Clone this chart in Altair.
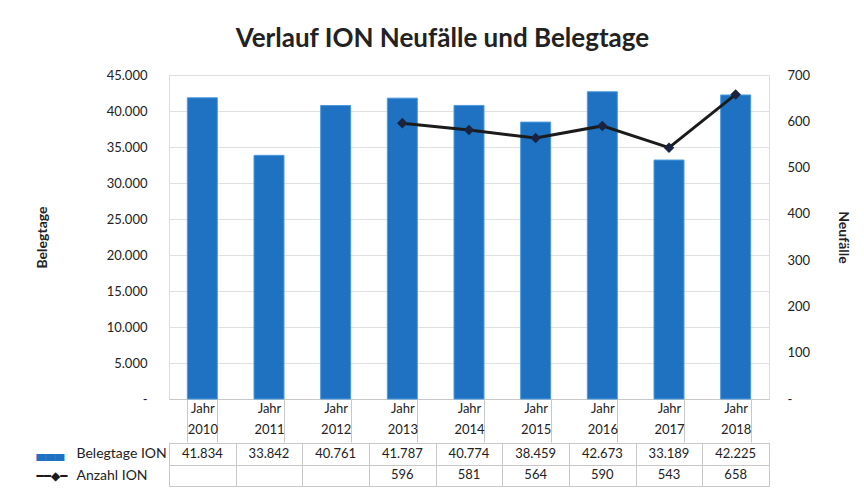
import altair as alt
import pandas as pd

years = ["2010", "2011", "2012", "2013", "2014", "2015", "2016", "2017", "2018"]
belegtage = [41834, 33842, 40761, 41787, 40774, 38459, 42673, 33189, 42225]
anzahl = [None, None, None, 596, 581, 564, 590, 543, 658]
row_names = ["Belegtage ION", "Anzahl ION"]
left_ticks = [0, 5000, 10000, 15000, 20000, 25000, 30000, 35000, 40000, 45000]
right_ticks = [0, 100, 200, 300, 400, 500, 600, 700]

FONT = "Lato"
BLUE = "#1f72c2"
DARK = "#1b1b1b"
GRID = "#c8c8c8"

df = pd.DataFrame({"Jahr": years, "Belegtage": belegtage, "Anzahl": anzahl})

rows = []
for j, b, a in zip(years, belegtage, anzahl):
    rows.append({"Jahr": j, "Reihe": row_names[0], "Wert": b})
    if a is not None:
        rows.append({"Jahr": j, "Reihe": row_names[1], "Wert": a})
tdf = pd.DataFrame(rows)

de_fmt = "replace(format(datum.value, ','), ',', '.')"

x_main = alt.X(
    "Jahr:N", sort=years,
    scale=alt.Scale(paddingInner=0.55, paddingOuter=0.275),
    axis=alt.Axis(
        title=None, labelAngle=0,
        labelExpr="datum.value ? ['Jahr', datum.value] : ''",
        tickBand="extent", tickSize=43, tickColor=GRID, domainColor=GRID,
        labelPadding=-40, labelBaseline="top", labelFont=FONT, labelFontSize=13,
        labelLineHeight=21, labelColor="#222", grid=False,
    ),
)

bars = alt.Chart(df).mark_bar(color=BLUE, stroke="#4b9ae0", strokeWidth=1).encode(
    x=x_main,
    y=alt.Y(
        "Belegtage:Q",
        scale=alt.Scale(domain=[0, 45000], nice=False),
        axis=alt.Axis(
            values=left_ticks,
            labelExpr="datum.value == 0 ? '-' : " + de_fmt,
            title="Belegtage", titleFont=FONT, titleFontSize=14, titleFontWeight="bold",
            titleColor="#222", titlePadding=57,
            labelFont=FONT, labelFontSize=13, labelColor="#222", labelPadding=22,
            ticks=False, domain=False, grid=True, gridColor="#e0e0e0",
        ),
    ),
)

line = alt.Chart(df).transform_filter("datum.Anzahl != null").mark_line(
    color=DARK, strokeWidth=3,
    point=alt.OverlayMarkDef(shape="diamond", size=60, fill="#1a2440", stroke="#1a2440"),
).encode(
    x=alt.X("Jahr:N", sort=years),
    y=alt.Y(
        "Anzahl:Q",
        scale=alt.Scale(domain=[0, 700], nice=False),
        axis=alt.Axis(
            orient="right", values=right_ticks,
            labelExpr="datum.value == 0 ? '-' : datum.value",
            title="Neufälle", titleFont=FONT, titleFontSize=14, titleFontWeight="bold",
            titleColor="#222", titlePadding=26,
            labelFont=FONT, labelFontSize=13, labelColor="#222", labelPadding=18,
            ticks=False, domain=False, grid=False,
        ),
    ),
)

main = alt.layer(bars, line).resolve_scale(y="independent").properties(width=600, height=324)

x_tab = alt.X(
    "Jahr:N", sort=years,
    scale=alt.Scale(paddingInner=0, paddingOuter=0, domain=years),
    axis=alt.Axis(title=None, labels=False, ticks=False, domain=False, grid=True,
                  tickBand="extent", gridColor=GRID),
)

tab_text = alt.Chart(tdf).transform_calculate(
    label="replace(format(datum.Wert, ','), ',', '.')"
).mark_text(font=FONT, fontSize=13, color="#222").encode(
    x=x_tab,
    y=alt.Y("Reihe:N", sort=row_names,
            axis=alt.Axis(title=None, ticks=False, domain=False, grid=True, tickBand="extent",
                          gridColor=GRID, labelAlign="left", labelPadding=93,
                          labelFont=FONT, labelFontSize=14, labelColor="#222")),
    text="label:N",
)

tab_sym = alt.Chart(tdf).mark_text(opacity=0).encode(
    x=alt.X("Jahr:N", sort=years),
    y=alt.Y("Reihe:N", sort=row_names,
            axis=alt.Axis(orient="left", title=None, ticks=False, domain=False, grid=False,
                          labelAlign="left", labelPadding=133,
                          labelExpr="datum.value == 'Belegtage ION' ? '▄▄▄' : '━━◆━'",
                          labelFont="DejaVu Sans", labelFontSize=12,
                          labelColor={"condition": {"test": "datum.value == 'Belegtage ION'", "value": BLUE},
                                      "value": DARK})),
    text=alt.value(""),
)

table = alt.layer(tab_text, tab_sym).resolve_scale(y="independent").properties(width=600, height=43)

chart = alt.vconcat(main, table, spacing=-8).properties(
    title=alt.TitleParams("Verlauf ION Neufälle und Belegtage", font=FONT, fontSize=26,
                          fontWeight="bold", color="#222", anchor="middle", offset=17),
    padding={"left": 26, "top": 17, "right": 4, "bottom": 5},
).configure_view(stroke=GRID).configure(background="white")

chart.save("out.html", embed_options={"renderer": "svg", "actions": False})
